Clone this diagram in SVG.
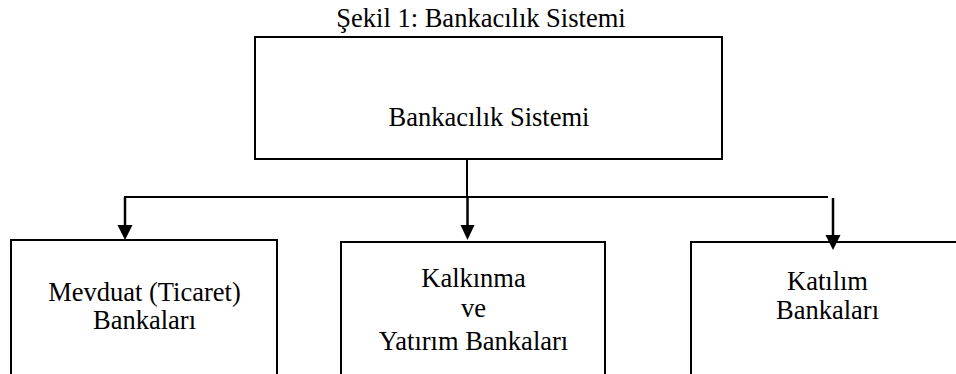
<svg xmlns="http://www.w3.org/2000/svg" width="956" height="374" viewBox="0 0 956 374">
<style>
.box{fill:#fff;stroke:#000;stroke-width:2}
.t{font-family:"Liberation Serif","Times New Roman",serif;font-size:26.5px;fill:#000;text-anchor:middle}
.ln{stroke:#000;stroke-width:2;fill:none}
.sh{stroke:#000;stroke-width:2.5;fill:none}
.ah{fill:#000}
</style>
<rect width="956" height="374" fill="#fff"/>
<text class="t" x="481" y="27">Şekil 1: Bankacılık Sistemi</text>
<g id="node-sistem">
<rect class="box" x="255" y="37" width="467" height="122"/>
<text class="t" x="489" y="126">Bankacılık Sistemi</text>
</g>
<g id="node-mevduat">
<rect class="box" x="11" y="240" width="266" height="140"/>
<text class="t" x="144.5" y="300.5">Mevduat (Ticaret)</text>
<text class="t" x="144.5" y="329">Bankaları</text>
</g>
<g id="node-kalkinma">
<rect class="box" x="341" y="242" width="264" height="140"/>
<text class="t" x="473.5" y="287">Kalkınma</text>
<text class="t" x="473.5" y="317">ve</text>
<text class="t" x="473.5" y="350">Yatırım Bankaları</text>
</g>
<g id="node-katilim">
<rect class="box" x="691" y="242" width="280" height="140"/>
<text class="t" x="827.5" y="290">Katılım</text>
<text class="t" x="827.5" y="318.5">Bankaları</text>
</g>
<g id="connectors">
<line class="ln" x1="467" y1="159" x2="467" y2="197"/>
<line class="ln" x1="124" y1="197" x2="828" y2="197"/>
<line class="sh" x1="125" y1="197" x2="125" y2="227"/>
<polygon class="ah" points="117.5,225 132.5,225 125,240"/>
<line class="sh" x1="467.5" y1="197" x2="467.5" y2="227"/>
<polygon class="ah" points="460.5,225 474.5,225 467.5,240"/>
<line class="sh" x1="833" y1="198" x2="833" y2="237"/>
<polygon class="ah" points="825.5,235 840.5,235 833,250"/>
</g>
</svg>
